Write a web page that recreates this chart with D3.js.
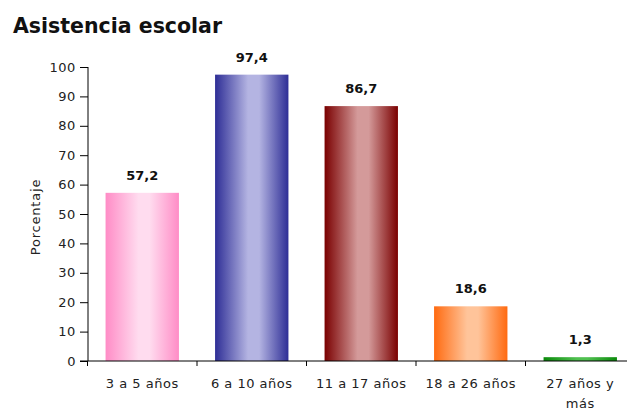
<!DOCTYPE html>
<html><head><meta charset="utf-8">
<script src="https://cdn.jsdelivr.net/npm/d3@7"></script>
<style>body{margin:0;background:#fff}svg{display:block}</style>
</head><body>
<svg id="c" width="627" height="411"></svg>
<script>
const categories = ["3 a 5 años", "6 a 10 años", "11 a 17 años", "18 a 26 años", "27 años y más"];
const values = [57.2, 97.4, 86.7, 18.6, 1.3];
const valueLabels = ["57,2", "97,4", "86,7", "18,6", "1,3"];
const yTicks = [0, 10, 20, 30, 40, 50, 60, 70, 80, 90, 100];
const edgeColors = ["#ff8cc6", "#2e2e96", "#7a0000", "#ff6a10", "#0a8a0a"];
const midColors = ["#ffdcef", "#b4b4e2", "#d49a9a", "#ffc49a", "#50c050"];

const svg = d3.select("#c");
const font = "'DejaVu Sans', Verdana, sans-serif";
const x = d3.scaleBand().domain(categories).range([87.5, 635]).paddingInner(0.33).paddingOuter(0.165);
const y = d3.scaleLinear().domain([0, 100]).range([361, 67]);

const defs = svg.append("defs");
categories.forEach((c, i) => {
  const g = defs.append("linearGradient").attr("id", "g" + i).attr("x1", 0).attr("x2", 1).attr("y1", 0).attr("y2", 0);
  g.append("stop").attr("offset", "0%").attr("stop-color", edgeColors[i]);
  g.append("stop").attr("offset", "45%").attr("stop-color", midColors[i]);
  g.append("stop").attr("offset", "60%").attr("stop-color", midColors[i]);
  g.append("stop").attr("offset", "100%").attr("stop-color", edgeColors[i]);
});

svg.append("text").attr("x", 13).attr("y", 33).attr("font-family", font).attr("font-weight", "bold")
  .attr("font-size", 20.5).attr("fill", "#111").text("Asistencia escolar");

// bars
svg.selectAll("rect.bar").data(values).join("rect").attr("class", "bar")
  .attr("x", (d, i) => x(categories[i])).attr("width", x.bandwidth())
  .attr("y", d => y(d)).attr("height", d => y(0) - y(d))
  .attr("fill", (d, i) => `url(#g${i})`);

// value labels
svg.selectAll("text.val").data(values).join("text").attr("class", "val")
  .attr("x", (d, i) => x(categories[i]) + x.bandwidth() / 2).attr("y", d => y(d) - 13)
  .attr("text-anchor", "middle").attr("font-family", font).attr("font-weight", "bold")
  .attr("font-size", 13).attr("fill", "#111").text((d, i) => valueLabels[i]);

// y axis
const ya = svg.append("g").attr("transform", "translate(88,0)")
  .call(d3.axisLeft(y).tickValues(yTicks).tickSize(8).tickPadding(4));
ya.selectAll("text").attr("font-family", font).attr("font-size", 13).attr("letter-spacing", 0.6).attr("fill", "#222");
ya.selectAll("line,path").attr("stroke", "#000");
ya.select("path").attr("d", "M0,67V361");

// x axis
const xa = svg.append("g").attr("transform", "translate(0,361)");
xa.append("line").attr("x1", 80).attr("x2", 627).attr("y1", 0).attr("y2", 0).attr("stroke", "#000");
const step = x.step();
const bounds = d3.range(categories.length).map(i => x(categories[i]) - step * x.paddingInner() / 2);
xa.selectAll("line.t").data(bounds).join("line").attr("class", "t")
  .attr("x1", d => d).attr("x2", d => d).attr("y1", 0).attr("y2", 5).attr("stroke", "#000");
xa.selectAll("text").data(categories).join("text")
  .attr("x", d => x(d) + x.bandwidth() / 2).attr("y", 27)
  .attr("text-anchor", "middle").attr("font-family", font).attr("font-size", 13).attr("letter-spacing", 0.5).attr("fill", "#222")
  .each(function(d) {
    const t = d3.select(this);
    if (d === "27 años y más") {
      t.append("tspan").attr("x", x(d) + x.bandwidth() / 2).attr("dy", 0).text("27 años y");
      t.append("tspan").attr("x", x(d) + x.bandwidth() / 2).attr("dy", 20).text("más");
    } else t.text(d);
  });

svg.append("text").attr("transform", "translate(40,217) rotate(-90)").attr("text-anchor", "middle")
  .attr("font-family", font).attr("font-size", 13).attr("letter-spacing", 0.8).attr("fill", "#222").text("Porcentaje");
</script>
</body></html>
